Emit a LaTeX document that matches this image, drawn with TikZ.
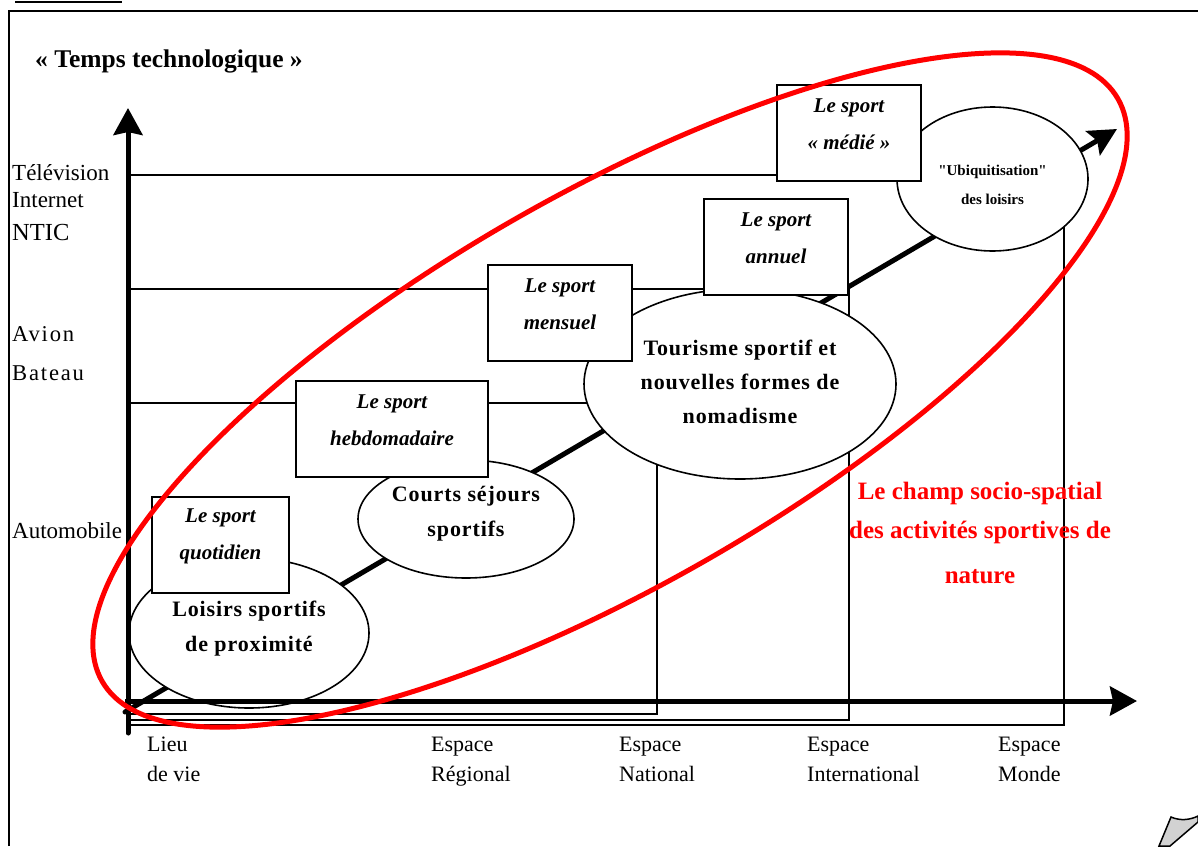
\documentclass[tikz,border=0pt]{standalone}
\usepackage{fontspec}
\setmainfont{Liberation Serif}
\newfontfamily\plainserif{Liberation Serif}
\usetikzlibrary{arrows.meta,shapes.geometric}
\begin{document}
\begin{tikzpicture}[x=1pt,y=-1pt,
  thinline/.style={line width=1.5pt},
  sportbox/.style={draw, line width=2pt, fill=white, rectangle, inner sep=0pt},
  boxlabel/.style={align=center, inner sep=0pt, font=\fontsize{21}{37}\selectfont\bfseries\itshape},
  stage/.style={draw, line width=1.6pt, fill=white, ellipse, inner sep=0pt},
  stagelabel/.style={align=center, inner sep=0pt, font=\fontsize{22}{35}\selectfont\bfseries\addfontfeature{LetterSpace=4}},
  axis/.style={line width=5pt, -{Stealth[length=27pt,width=29pt,inset=3pt]}},
  ylab/.style={anchor=base west, align=left, inner sep=0pt, font=\fontsize{23}{27}\selectfont},
  xlab/.style={anchor=base west, align=left, inner sep=0pt, font=\fontsize{22}{30}\selectfont},
]
\useasboundingbox (0,0) rectangle (1198,846);
\fill[white] (0,0) rectangle (1198,846);

% frame
\draw[line width=2pt] (9,846) -- (9,11) -- (1198,11);
\draw[line width=2pt] (15,1.5) -- (122,1.5);

% nested spatial rectangles
\draw[thinline] (128,175) rectangle (1064,725);
\draw[thinline] (128,289) rectangle (849,720);
\draw[thinline] (128,403) rectangle (657,714);

% diagonal evolution arrow
\coordinate (dstart) at (125,712);
\coordinate (dend) at (1117,129);
\draw[line width=5pt, line cap=round, -{Stealth[length=28pt,width=28pt,inset=5pt]}] (dstart) -- (dend);

% stages (ellipses)
\node[stage, minimum width=240pt, minimum height=150pt] (loisirs) at (249,633) {};
\node[stagelabel] at ([yshift=4pt]loisirs.center) {Loisirs sportifs\\de proximité};
\node[stage, minimum width=216pt, minimum height=118pt] (courts) at (466,519) {};
\node[stagelabel] at ([yshift=5pt]courts.center) {Courts séjours\\sportifs};
\node[stage, minimum width=312pt, minimum height=190pt] (tourisme) at (740,384) {};
\node[stagelabel, font=\fontsize{22}{34}\selectfont\bfseries\addfontfeature{LetterSpace=4}] at ([yshift=2pt]tourisme.center) {Tourisme sportif et\\nouvelles formes de\\nomadisme};
\node[stage, minimum width=191pt, minimum height=144pt] (ubiq) at (992.5,179) {};
\node[stagelabel, font=\plainserif\fontsize{15}{29}\selectfont\bfseries] at ([yshift=-6pt]ubiq.center) {"Ubiquitisation"\\des loisirs};

% sport boxes
\node[sportbox, minimum width=137pt, minimum height=96pt] (quot) at (220.5,545) {};
\node[boxlabel] at ([yshift=9pt]quot.center) {Le sport\\quotidien};
\node[sportbox, minimum width=192pt, minimum height=96pt] (hebdo) at (392,429) {};
\node[boxlabel] at ([yshift=9pt]hebdo.center) {Le sport\\hebdomadaire};
\node[sportbox, minimum width=144pt, minimum height=96pt] (mens) at (560,313) {};
\node[boxlabel] at ([yshift=9pt]mens.center) {Le sport\\mensuel};
\node[sportbox, minimum width=144pt, minimum height=96pt] (annu) at (776,247) {};
\node[boxlabel] at ([yshift=9pt]annu.center) {Le sport\\annuel};
\node[sportbox, minimum width=144pt, minimum height=96pt] (medie) at (849,133) {};
\node[boxlabel] at ([yshift=9pt]medie.center) {Le sport\\« médié »};

% axes
\coordinate (vbot) at (128,733);
\coordinate (vtop) at (128,108);
\coordinate (hstart) at (125,701);
\coordinate (hend) at (1137,701);
\draw[axis, line cap=round] (vbot) -- (vtop);
\draw[axis] (hstart) -- (hend);

% red field
\node[draw=red, line width=5pt, ellipse, minimum width=1171pt, minimum height=391pt, rotate=29.84] (champ) at (610,390) {};
\node[anchor=base, align=center, inner sep=0pt, text=red, font=\fontsize{25}{39}\selectfont\bfseries] (champtext) at (980,583) {Le champ socio-spatial\\des activités sportives de\\[6pt]nature};

% titles and axis labels
\node[anchor=base west, inner sep=0pt, font=\fontsize{25.5}{30}\selectfont\bfseries] (title) at (35,67) {« Temps technologique »};
\node[ylab] (tele) at (12,240) {Télévision\\Internet\\[6pt]{\fontsize{24.5}{27}\selectfont NTIC}};
\node[ylab, font=\fontsize{22.6}{39}\selectfont\addfontfeature{LetterSpace=8}] (avion) at (12,380) {Avion\\Bateau};
\node[ylab] (auto) at (12,538) {Automobile};
\node[xlab] (lieu) at (147,781) {Lieu\\de vie};
\node[xlab] (reg) at (431,781) {Espace\\Régional};
\node[xlab] (nat) at (619,781) {Espace\\National};
\node[xlab] (intl) at (807,781) {Espace\\International};
\node[xlab] (monde) at (998,781) {Espace\\Monde};

% page curl at the corner
\filldraw[fill=gray!35, line width=1.5pt] (1171,817) .. controls (1180,821) and (1190,820) .. (1198,816) -- (1198,822) -- (1170,846) -- (1159,846) -- cycle;
\end{tikzpicture}
\end{document}
